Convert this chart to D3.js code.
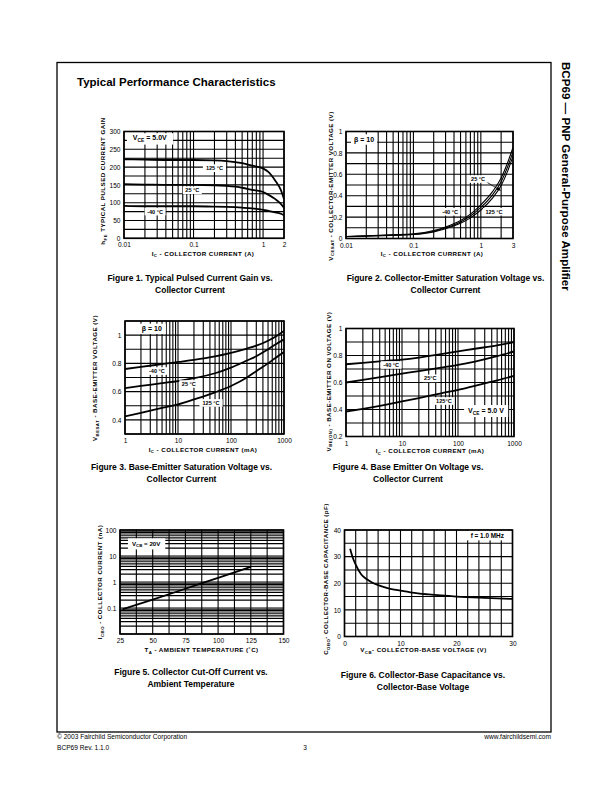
<!DOCTYPE html>
<html><head><meta charset="utf-8">
<script src="https://cdn.jsdelivr.net/npm/d3@7"></script>
<style>
body{margin:0;background:#fff}
svg{display:block;font-family:"Liberation Sans",Arial,Helvetica,sans-serif}
</style></head><body>
<svg id="page" width="612" height="792"></svg>
<script>
// ================= DATA =================
// Figure 1: hFE vs Ic (A)
const fig1Current=[0.01,0.02,0.05,0.1,0.2,0.3,0.5,0.7,1,1.2,1.5,1.8,2];
const fig1Gain125=[222,221,220,220,219,217,211,204,196,186,162,136,110];
const fig1Gain25=[152,151,150,150,149,147,142,136,130,122,110,97,86];
const fig1GainM40=[91,90,90,90,89,88,86,84,80,77,73,69,65];
const fig1XTicks=[0.01,0.1,1,2];
const fig1XLabels=["0.01","0.1","1","2"];
const fig1YTicks=[0,50,100,150,200,250,300];
const fig1YLabels=["0","50","100","150","200","250","300"];
// Figure 2: VCE(sat) vs Ic (A)
const fig2Current=[0.01,0.02,0.05,0.1,0.2,0.3,0.5,0.7,1,1.5,2,2.5,3];
const fig2VceM40=[0.019,0.025,0.034,0.043,0.074,0.108,0.168,0.228,0.315,0.44,0.565,0.71,0.85];
const fig2Vce25=[0.018,0.024,0.032,0.040,0.068,0.100,0.155,0.210,0.290,0.41,0.530,0.67,0.81];
const fig2Vce125=[0.017,0.022,0.030,0.037,0.062,0.092,0.142,0.193,0.266,0.38,0.495,0.63,0.77];
const fig2XTicks=[0.01,0.1,1,3];
const fig2XLabels=["0.01","0.1","1","3"];
const fig2YTicks=[0,0.2,0.4,0.6,0.8,1];
const fig2YLabels=["0","0.2","0.4","0.6","0.8","1"];
// Figure 3: VBE(sat) vs Ic (mA)
const fig3Current=[1,2,5,10,20,50,100,200,300,500,700,1000];
const fig3VbeM40=[0.76,0.775,0.795,0.81,0.825,0.85,0.875,0.905,0.925,0.96,0.99,1.03];
const fig3Vbe25=[0.625,0.64,0.66,0.675,0.695,0.73,0.77,0.82,0.85,0.90,0.935,0.97];
const fig3Vbe125=[0.425,0.45,0.485,0.51,0.545,0.595,0.64,0.70,0.745,0.80,0.84,0.88];
const fig3XTicks=[1,10,100,1000];
const fig3XLabels=["1","10","100","1000"];
const fig3YTicks=[0.4,0.6,0.8,1];
const fig3YLabels=["0.4","0.6","0.8","1"];
// Figure 4: VBE(on) vs Ic (mA)
const fig4Current=[1,2,5,10,20,50,100,200,500,1000];
const fig4VbeM40=[0.735,0.745,0.76,0.77,0.785,0.81,0.83,0.85,0.875,0.90];
const fig4Vbe25=[0.60,0.62,0.645,0.665,0.685,0.71,0.73,0.755,0.795,0.83];
const fig4Vbe125=[0.385,0.405,0.435,0.46,0.485,0.52,0.545,0.575,0.615,0.65];
const fig4XTicks=[1,10,100,1000];
const fig4XLabels=["1","10","100","1000"];
const fig4YTicks=[0.2,0.4,0.6,0.8,1];
const fig4YLabels=["0.2","0.4","0.6","0.8","1"];
// Figure 5: ICBO vs TA
const fig5Temp=[27,50,75,100,125];
const fig5Icbo=[0.09,0.21,0.55,1.45,3.8];
const fig5XTicks=[25,50,75,100,125,150];
const fig5XLabels=["25","50","75","100","125","150"];
const fig5YTicks=[0.1,1,10,100];
const fig5YLabels=["0.1","1","10","100"];
// Figure 6: Cobo vs VCB
const fig6Vcb=[1,1.5,2,3,4,5,6,8,10,12,15,20,25,30];
const fig6Cobo=[33,29.5,27,23.3,21.5,20.2,19.3,18.0,17.2,16.5,15.8,15.0,14.5,14.1];
const fig6XTicks=[0,10,20,30];
const fig6XLabels=["0","10","20","30"];
const fig6YTicks=[0,10,20,30,40];
const fig6YLabels=["0","10","20","30","40"];

// ================= HELPERS =================
const svg=d3.select("#page");
const GRID=1.1, FRAME=1.6, CURVE=1.8;
const defs=svg.append("defs");
defs.append("marker").attr("id","arr").attr("viewBox","0 0 10 10").attr("refX",9).attr("refY",5)
  .attr("markerWidth",5).attr("markerHeight",5).attr("orient","auto")
  .append("path").attr("d","M0,1L10,5L0,9Z").attr("fill","#000");

function logGrid(a,b){const out=[];for(let p=Math.floor(Math.log10(a));p<=Math.ceil(Math.log10(b));p++){for(let m=1;m<10;m++){const v=+(m*Math.pow(10,p)).toPrecision(6);if(v>=a*0.999&&v<=b*1.001)out.push(v);}}return out;}
function linGrid(a,b,s){const out=[];for(let v=a;v<=b+1e-9;v+=s)out.push(+v.toFixed(6));return out;}

function addParts(t,parts,fs){
  let prevSub=false;
  parts.forEach(p=>{
    const ts=t.append("tspan").text(p[0]);
    if(p[1]){ts.attr("font-size",fs*0.7).attr("dy",fs*0.28);prevSub=true;}
    else if(prevSub){ts.attr("dy",-fs*0.28);prevSub=false;}
  });
}

let clipId=0;
function drawChart(o){
  const g=svg.append("g");
  const x=o.x,y=o.y;
  const [xa,xb]=x.range(),[ya,yb]=y.range();
  const id="clip"+(clipId++);
  defs.append("clipPath").attr("id",id).append("rect").attr("x",xa).attr("y",yb).attr("width",xb-xa).attr("height",ya-yb);
  g.append("g").selectAll("line").data(o.xGrid).join("line")
    .attr("x1",d=>x(d)).attr("x2",d=>x(d)).attr("y1",ya).attr("y2",yb)
    .attr("stroke","#000").attr("stroke-width",GRID);
  g.append("g").selectAll("line").data(o.yGrid).join("line")
    .attr("y1",d=>y(d)).attr("y2",d=>y(d)).attr("x1",xa).attr("x2",xb)
    .attr("stroke","#000").attr("stroke-width",GRID);
  g.append("rect").attr("x",xa).attr("y",yb).attr("width",xb-xa).attr("height",ya-yb)
    .attr("fill","none").attr("stroke","#000").attr("stroke-width",FRAME);
  const line=d3.line().x(d=>x(d[0])).y(d=>y(d[1])).curve(d3.curveMonotoneX);
  const cg=g.append("g").attr("clip-path",`url(#${id})`);
  o.series.forEach(s=>{
    cg.append("path").datum(d3.zip(s.x,s.y)).attr("d",line)
      .attr("fill","none").attr("stroke","#000").attr("stroke-width",o.curveWidth||CURVE).attr("stroke-linejoin","round");
  });
  const ax=g.append("g").attr("transform",`translate(0,${ya})`)
    .call(d3.axisBottom(x).tickValues(o.xTicks).tickFormat((d,i)=>o.xLabels[i]).tickSize(0).tickPadding(4.5));
  ax.select(".domain").remove();
  ax.attr("font-family",null).attr("font-size",6.6);
  const ay=g.append("g").attr("transform",`translate(${xa},0)`)
    .call(d3.axisLeft(y).tickValues(o.yTicks).tickFormat((d,i)=>o.yLabels[i]).tickSize(0).tickPadding(3.5));
  ay.select(".domain").remove();
  ay.attr("font-family",null).attr("font-size",6.6);
  (o.arrows||[]).forEach(a=>{
    g.append("line").attr("x1",x(a.from[0])).attr("y1",y(a.from[1])).attr("x2",x(a.to[0])).attr("y2",y(a.to[1]))
      .attr("stroke","#000").attr("stroke-width",0.8).attr("marker-end","url(#arr)");
  });
  (o.notes||[]).forEach(n=>{
    const ng=g.append("g");
    const t=ng.append("text").attr("x",x(n.x)).attr("y",y(n.y)+n.fs*0.36)
      .attr("text-anchor","middle").attr("font-size",n.fs).attr("font-weight","bold");
    addParts(t,n.parts,n.fs);
    const bb=t.node().getBBox();
    ng.insert("rect","text").attr("x",bb.x-n.px).attr("y",bb.y-n.py).attr("width",bb.width+2*n.px).attr("height",bb.height+2*n.py).attr("fill","#fff");
  });
  const tx=g.append("text").attr("x",o.xTitle.cx).attr("y",o.xTitle.by).attr("text-anchor","middle")
    .attr("font-size",6.2).attr("font-weight","bold").attr("letter-spacing",0.45);
  addParts(tx,o.xTitle.parts,6.2);
  const ty=g.append("text").attr("transform",`translate(${o.yTitle.bx},${o.yTitle.cy}) rotate(-90)`).attr("text-anchor","middle")
    .attr("font-size",6.2).attr("font-weight","bold").attr("letter-spacing",0.45);
  addParts(ty,o.yTitle.parts,6.2);
  o.caption.lines.forEach((l,i)=>{
    g.append("text").attr("x",o.caption.cx).attr("y",o.caption.by+i*12).attr("text-anchor","middle")
      .attr("font-size",8.5).attr("font-weight","bold").text(l);
  });
}

// ================= PAGE =================
svg.append("rect").attr("x",57).attr("y",62.5).attr("width",494).attr("height",669.5)
  .attr("fill","none").attr("stroke","#000").attr("stroke-width",1.3);
svg.append("text").attr("x",77).attr("y",86).attr("font-size",11.5).attr("font-weight","bold")
  .text("Typical Performance Characteristics");
svg.append("text").attr("transform","translate(561.5,62) rotate(90)").attr("font-size",11.6).attr("font-weight","bold")
  .text("BCP69 \u2014 PNP General-Purpose Amplifier");
svg.append("text").attr("x",57).attr("y",738.5).attr("font-size",6.6).text("\u00A9 2003 Fairchild Semiconductor Corporation");
svg.append("text").attr("x",57).attr("y",749.5).attr("font-size",6.6).text("BCP69 Rev. 1.1.0");
svg.append("text").attr("x",305).attr("y",749.5).attr("font-size",6.6).attr("text-anchor","middle").text("3");
svg.append("text").attr("x",551).attr("y",738.5).attr("font-size",6.6).attr("text-anchor","end").text("www.fairchildsemi.com");

const TEMP=5.6;
drawChart({
  x:d3.scaleLog().domain([0.01,2]).range([124,284]),
  y:d3.scaleLinear().domain([0,300]).range([238.3,131.5]),
  xGrid:logGrid(0.01,2), yGrid:linGrid(0,300,25),
  xTicks:fig1XTicks,xLabels:fig1XLabels,yTicks:fig1YTicks,yLabels:fig1YLabels,
  series:[{x:fig1Current,y:fig1Gain125},{x:fig1Current,y:fig1Gain25},{x:fig1Current,y:fig1GainM40}],
  notes:[
    {x:0.0235,y:282,fs:7,px:6,py:1.2,parts:[["V"],["CE",1],[" = 5.0V"]]},
    {x:0.2,y:197,fs:TEMP,px:3,py:0.8,parts:[["125 \u00B0C"]]},
    {x:0.096,y:135,fs:TEMP,px:2.5,py:0.8,parts:[["25 \u00B0C"]]},
    {x:0.028,y:75,fs:TEMP,px:2.5,py:0.8,parts:[["-40 \u00B0C"]]}
  ],
  xTitle:{cx:203,by:255.5,parts:[["I"],["C",1],[" - COLLECTOR CURRENT  (A)"]]},
  yTitle:{bx:105,cy:181,parts:[["h"],["FE",1],["  TYPICAL PULSED CURRENT GAIN"]]},
  caption:{cx:190,by:281,lines:["Figure 1. Typical Pulsed Current Gain vs.","Collector Current"]}
});
drawChart({
  x:d3.scaleLog().domain([0.01,3]).range([346,513]),
  y:d3.scaleLinear().domain([0,1]).range([238.5,131.5]),
  xGrid:logGrid(0.01,3), yGrid:linGrid(0,1,0.1),
  xTicks:fig2XTicks,xLabels:fig2XLabels,yTicks:fig2YTicks,yLabels:fig2YLabels,
  curveWidth:1.1,
  series:[{x:fig2Current,y:fig2VceM40},{x:fig2Current,y:fig2Vce25},{x:fig2Current,y:fig2Vce125}],
  arrows:[{from:[1.2,0.53],to:[1.95,0.45]}],
  notes:[
    {x:0.0185,y:0.93,fs:7,px:3,py:1.2,parts:[["\u03B2 = 10"]]},
    {x:0.91,y:0.556,fs:TEMP,px:2.5,py:0.8,parts:[["25 \u00B0C"]]},
    {x:0.35,y:0.25,fs:TEMP,px:2.5,py:0.8,parts:[["-40 \u00B0C"]]},
    {x:1.57,y:0.25,fs:TEMP,px:2.5,py:0.8,parts:[["125 \u00B0C"]]}
  ],
  xTitle:{cx:432,by:255.5,parts:[["I"],["C",1],[" - COLLECTOR CURRENT  (A)"]]},
  yTitle:{bx:332.5,cy:186,parts:[["V"],["CESAT",1],[" - COLLECTOR-EMITTER VOLTAGE (V)"]]},
  caption:{cx:445.5,by:281,lines:["Figure 2. Collector-Emitter Saturation Voltage vs.","Collector Current"]}
});
drawChart({
  x:d3.scaleLog().domain([1,1000]).range([125,284]),
  y:d3.scaleLinear().domain([0.3,1.1]).range([434,321]),
  xGrid:logGrid(1,1000), yGrid:linGrid(0.3,1.1,0.1),
  xTicks:fig3XTicks,xLabels:fig3XLabels,yTicks:fig3YTicks,yLabels:fig3YLabels,
  series:[{x:fig3Current,y:fig3VbeM40},{x:fig3Current,y:fig3Vbe25},{x:fig3Current,y:fig3Vbe125}],
  notes:[
    {x:3.2,y:1.048,fs:7,px:4,py:1.2,parts:[["\u03B2 = 10"]]},
    {x:4.0,y:0.746,fs:TEMP,px:2.5,py:0.8,parts:[["-40 \u00B0C"]]},
    {x:16,y:0.654,fs:TEMP,px:2.5,py:0.8,parts:[["25 \u00B0C"]]},
    {x:42,y:0.52,fs:TEMP,px:3,py:0.8,parts:[["125 \u00B0C"]]}
  ],
  xTitle:{cx:203,by:451.5,parts:[["I"],["C",1],[" - COLLECTOR CURRENT  (mA)"]]},
  yTitle:{bx:97,cy:378,parts:[["V"],["BESAT",1],[" - BASE-EMITTER VOLTAGE (V)"]]},
  caption:{cx:181.5,by:470,lines:["Figure 3. Base-Emitter Saturation Voltage vs.","Collector Current"]}
});
drawChart({
  x:d3.scaleLog().domain([1,1000]).range([346,514]),
  y:d3.scaleLinear().domain([0.2,1]).range([436.5,328.5]),
  xGrid:logGrid(1,1000), yGrid:linGrid(0.2,1,0.1),
  xTicks:fig4XTicks,xLabels:fig4XLabels,yTicks:fig4YTicks,yLabels:fig4YLabels,
  series:[{x:fig4Current,y:fig4VbeM40},{x:fig4Current,y:fig4Vbe25},{x:fig4Current,y:fig4Vbe125}],
  notes:[
    {x:6.4,y:0.73,fs:TEMP,px:2.5,py:0.8,parts:[["-40 \u00B0C"]]},
    {x:32,y:0.631,fs:TEMP,px:1.5,py:0.8,parts:[["25\u00B0C"]]},
    {x:56,y:0.463,fs:TEMP,px:2,py:0.8,parts:[["125\u00B0C"]]},
    {x:316,y:0.396,fs:7,px:4,py:1.5,parts:[["V"],["CE",1],[" = 5.0 V"]]}
  ],
  xTitle:{cx:430,by:453,parts:[["I"],["C",1],[" - COLLECTOR CURRENT  (mA)"]]},
  yTitle:{bx:330.5,cy:381.5,parts:[["V"],["BE(ON)",1],[" - BASE-EMITTER ON VOLTAGE (V)"]]},
  caption:{cx:408,by:470,lines:["Figure 4. Base Emitter On Voltage vs.","Collector Current"]}
});
drawChart({
  x:d3.scaleLinear().domain([25,150]).range([120,283.5]),
  y:d3.scaleLog().domain([0.01,100]).range([634,530]),
  xGrid:linGrid(25,150,12.5), yGrid:logGrid(0.01,100),
  xTicks:fig5XTicks,xLabels:fig5XLabels,yTicks:fig5YTicks,yLabels:fig5YLabels,
  series:[{x:fig5Temp,y:fig5Icbo}],
  notes:[
    {x:45,y:30.8,fs:6.2,px:4,py:1.2,parts:[["V"],["CB",1],[" = 20V"]]}
  ],
  xTitle:{cx:201.5,by:652,parts:[["T"],["A",1],[" - AMBIENT TEMPERATURE (\u02DAC)"]]},
  yTitle:{bx:102,cy:582,parts:[["I"],["CBO",1],[" - COLLECTOR CURRENT (nA)"]]},
  caption:{cx:191,by:675,lines:["Figure 5. Collector Cut-Off Current vs.","Ambient Temperature"]}
});
drawChart({
  x:d3.scaleLinear().domain([0,30]).range([344.5,512.5]),
  y:d3.scaleLinear().domain([0,40]).range([636.5,530]),
  xGrid:linGrid(0,30,2), yGrid:linGrid(0,40,5),
  xTicks:fig6XTicks,xLabels:fig6XLabels,yTicks:fig6YTicks,yLabels:fig6YLabels,
  series:[{x:fig6Vcb,y:fig6Cobo}],
  notes:[
    {x:25.5,y:37.8,fs:6.4,px:4,py:1.2,parts:[["f = 1.0 MHz"]]}
  ],
  xTitle:{cx:423.5,by:652,parts:[["V"],["CB",1],["- COLLECTOR-BASE VOLTAGE (V)"]]},
  yTitle:{bx:328,cy:579,parts:[["C"],["OBO",1],["- COLLECTOR-BASE CAPACITANCE (pF)"]]},
  caption:{cx:423,by:678,lines:["Figure 6. Collector-Base Capacitance vs.","Collector-Base Voltage"]}
});
</script>
</body></html>
